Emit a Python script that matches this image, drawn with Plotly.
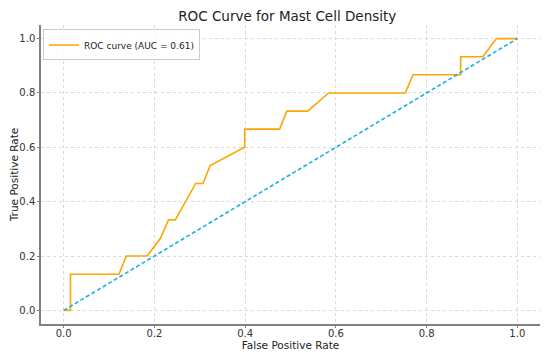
import plotly.graph_objects as go

fpr = [0.0, 0.015, 0.015, 0.122, 0.138, 0.184, 0.214, 0.231, 0.246, 0.291, 0.307,
       0.323, 0.399, 0.399, 0.476, 0.492, 0.538, 0.584, 0.753, 0.770, 0.875, 0.875,
       0.924, 0.954, 1.0]
tpr = [0.0, 0.0, 0.133, 0.133, 0.2, 0.2, 0.267, 0.333, 0.333, 0.467, 0.467,
       0.533, 0.6, 0.667, 0.667, 0.733, 0.733, 0.8, 0.8, 0.867, 0.867, 0.933,
       0.933, 1.0, 1.0]
chance = [0.0, 1.0]
ticks = [0.0, 0.2, 0.4, 0.6, 0.8, 1.0]
tick_labels = ["0.0", "0.2", "0.4", "0.6", "0.8", "1.0"]
auc_label = "ROC curve (AUC = 0.61)"

fig = go.Figure()
fig.add_trace(go.Scatter(x=fpr, y=tpr, mode="lines", name=auc_label,
                         line=dict(color="#FFA500", width=1.6)))
fig.add_trace(go.Scatter(x=chance, y=chance, mode="lines", showlegend=False,
                         line=dict(color="#1AAEE6", width=1.6, dash="4px,2.5px")))

axis_common = dict(
    showline=True, linecolor="#808080", linewidth=1.5,
    ticks="outside", ticklen=2, tickcolor="#808080", tickwidth=1,
    showgrid=True, gridcolor="#d9d9d9", griddash="dot", gridwidth=1,
    zeroline=False, tickfont=dict(size=10, color="#333333"),
    tickvals=ticks, ticktext=tick_labels, automargin=False,
)
fig.update_xaxes(range=[-0.05, 1.05], mirror=False, ticklabelstandoff=-3,
                 title=dict(text="False Positive Rate", font=dict(size=10.5, color="#222222"), standoff=0),
                 **axis_common)
fig.update_yaxes(range=[-0.05, 1.05], mirror=False,
                 title=dict(text="True Positive Rate", font=dict(size=10.5, color="#222222"), standoff=4),
                 **axis_common)

# the page body adds an 8px margin, so the figure is sized 8px smaller
fig.update_layout(
    width=542, height=347,
    margin=dict(l=33, r=10, t=17, b=31),
    paper_bgcolor="white", plot_bgcolor="white",
    font=dict(family="DejaVu Sans", color="#222222"),
    title=dict(text="ROC Curve for Mast Cell Density", x=0.4935, xref="paper", xanchor="center",
               y=0.991, yanchor="top", font=dict(size=13.5, color="#222222")),
    legend=dict(x=0.004, y=0.985, xanchor="left", yanchor="top",
                bgcolor="rgba(255,255,255,0.8)", bordercolor="#cccccc", borderwidth=1,
                font=dict(size=9, color="#222222"), itemwidth=30,
                tracegroupgap=0),
    showlegend=True,
)

fig.write_html("out.html")
